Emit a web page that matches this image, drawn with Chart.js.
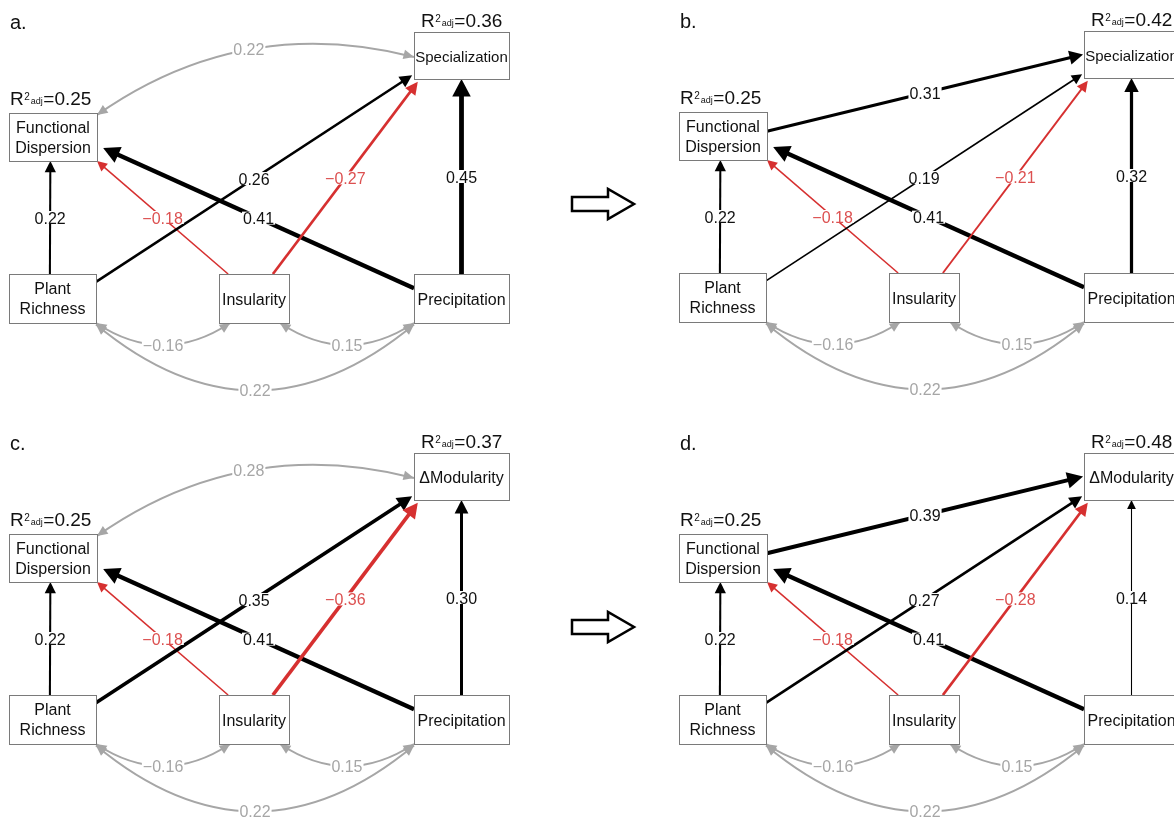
<!DOCTYPE html>
<html>
<head>
<meta charset="utf-8">
<script src="https://cdn.jsdelivr.net/npm/chart.js@4.4.1/dist/chart.umd.min.js"></script>
<style>
  html, body { margin: 0; padding: 0; background: #fff; }
  canvas { display: block; }
</style>
</head>
<body>
<canvas id="sem" width="1174" height="819"></canvas>
<script>
// ---- data ----
const panelLetters = ["a.", "b.", "c.", "d."];
const responseNames = ["Specialization", "Specialization", "\u0394Modularity", "\u0394Modularity"];
const r2Response = [0.36, 0.42, 0.37, 0.48];
const r2Dispersion = [0.25, 0.25, 0.25, 0.25];

// path coefficients (null = path not in the model)
const plantToDisp = [0.22, 0.22, 0.22, 0.22];
const insToDisp = [-0.18, -0.18, -0.18, -0.18];
const precToDisp = [0.41, 0.41, 0.41, 0.41];
const plantToResp = [0.26, 0.19, 0.35, 0.27];
const insToResp = [-0.27, -0.21, -0.36, -0.28];
const precToResp = [0.45, 0.32, 0.30, 0.14];
const dispToResp = [null, 0.31, null, 0.39];

// correlations (double headed, grey)
const dispRespCov = [0.22, null, 0.28, null];
const plantInsCov = [-0.16, -0.16, -0.16, -0.16];
const insPrecCov = [0.15, 0.15, 0.15, 0.15];
const plantPrecCov = [0.22, 0.22, 0.22, 0.22];

// ---- layout ----
const panelOrigin = [[0, 0], [670, -1], [0, 421], [670, 421]];
const boxes = {
  disp: { x: 9, y: 113, w: 88, h: 48 },
  resp: { x: 414, y: 32, w: 95, h: 47 },
  plant: { x: 9, y: 274, w: 87, h: 49 },
  ins: { x: 219, y: 274, w: 70, h: 49 },
  prec: { x: 414, y: 274, w: 95, h: 49 },
};
const boxText = {
  disp: ["Functional", "Dispersion"],
  plant: ["Plant", "Richness"],
  ins: ["Insularity"],
  prec: ["Precipitation"],
};
// ports: [box, fraction across, fraction down]
const paths = [
  { coef: plantToDisp, from: ["plant", 0.47, 0], to: ["disp", 0.47, 1] },
  { coef: insToDisp, from: ["ins", 0.13, 0], to: ["disp", 1, 1] },
  { coef: precToDisp, from: ["prec", 0, 0.29], to: ["disp", 1.07, 0.73] },
  { coef: plantToResp, from: ["plant", 1, 0.16], to: ["resp", -0.02, 0.92] },
  { coef: insToResp, from: ["ins", 0.77, 0], to: ["resp", 0.04, 1.06] },
  { coef: precToResp, from: ["prec", 0.5, 0], to: ["resp", 0.5, 1] },
  { coef: dispToResp, from: ["disp", 1, 0.4], to: ["resp", -0.01, 0.5] },
];
const covs = [
  { coef: dispRespCov, from: ["disp", 1, 0.04], to: ["resp", 0, 0.53], bend: 0.23 },
  { coef: plantInsCov, from: ["plant", 1, 1], to: ["ins", 0.16, 1], bend: -0.33 },
  { coef: insPrecCov, from: ["ins", 0.87, 1], to: ["prec", 0, 1], bend: -0.33 },
  { coef: plantPrecCov, from: ["plant", 1, 1.03], to: ["prec", 0, 1.03], bend: -0.415 },
];
const midArrows = [{ x: 572, y: 204 }, { x: 572, y: 627 }];

const FONT = "'Liberation Sans', Arial, Helvetica, sans-serif";
const RED = "rgb(214,48,48)";
const RED_TXT = "rgb(220,80,80)";
const GREY = "rgb(166,166,166)";

function fmt(c) {
  return (c < 0 ? "\u2212" : "") + Math.abs(c).toFixed(2);
}
function widthFor(c) {
  return Math.max(1, Math.abs(c) * 12 - 0.6);
}
function head(ctx, tip, ux, uy, hl, hw, color) {
  const bx = tip[0] - ux * hl, by = tip[1] - uy * hl;
  ctx.fillStyle = color;
  ctx.beginPath();
  ctx.moveTo(tip[0], tip[1]);
  ctx.lineTo(bx - uy * hw, by + ux * hw);
  ctx.lineTo(bx + uy * hw, by - ux * hw);
  ctx.closePath();
  ctx.fill();
}
function label(ctx, text, x, y, color) {
  ctx.font = "16px " + FONT;
  const w = ctx.measureText(text).width;
  ctx.fillStyle = "#fff";
  ctx.fillRect(x - w / 2 - 1, y - 6.5, w + 2, 13);
  ctx.fillStyle = color;
  ctx.textAlign = "center";
  ctx.textBaseline = "alphabetic";
  ctx.fillText(text, x, y + 6);
}
function r2(ctx, x, base, val) {
  ctx.fillStyle = "#111";
  ctx.textAlign = "left";
  ctx.textBaseline = "alphabetic";
  ctx.font = "19px " + FONT;
  ctx.fillText("R", x, base);
  x += ctx.measureText("R").width + 0.5;
  ctx.font = "10px " + FONT;
  ctx.fillText("2", x, base - 5.5);
  x += ctx.measureText("2").width + 1;
  ctx.font = "9px " + FONT;
  ctx.fillText("adj", x, base - 1);
  x += ctx.measureText("adj").width + 0.5;
  ctx.font = "19px " + FONT;
  ctx.fillText("=" + val.toFixed(2), x, base);
}

const semPlugin = {
  id: "semDiagram",
  afterDatasetsDraw(chart) {
    const ctx = chart.ctx;
    const sx = chart.scales.x, sy = chart.scales.y;
    ctx.save();
    for (let p = 0; p < 4; p++) {
      const [ox, oy] = panelOrigin[p];
      const px = (lx, ly) => [sx.getPixelForValue(ox + lx), sy.getPixelForValue(oy + ly)];
      const port = (s) => { const b = boxes[s[0]]; return px(b.x + b.w * s[1], b.y + b.h * s[2]); };
      const labels = [];

      // correlations
      covs.forEach((cv) => {
        const c = cv.coef[p];
        if (c === null) return;
        const a = port(cv.from), b = port(cv.to);
        const dx = b[0] - a[0], dy = b[1] - a[1];
        const k = [(a[0] + b[0]) / 2 + cv.bend * dy, (a[1] + b[1]) / 2 - cv.bend * dx];
        ctx.strokeStyle = GREY;
        ctx.lineWidth = 2;
        ctx.beginPath();
        ctx.moveTo(a[0], a[1]);
        ctx.quadraticCurveTo(k[0], k[1], b[0], b[1]);
        ctx.stroke();
        [[a, k], [b, k]].forEach(([t, q]) => {
          const vx = t[0] - q[0], vy = t[1] - q[1], L = Math.hypot(vx, vy);
          head(ctx, t, vx / L, vy / L, 10.5, 4.8, GREY);
        });
        labels.push([fmt(c), 0.25 * a[0] + 0.5 * k[0] + 0.25 * b[0], 0.25 * a[1] + 0.5 * k[1] + 0.25 * b[1], GREY]);
      });

      // directed paths
      paths.forEach((pa) => {
        const c = pa.coef[p];
        if (c === null) return;
        const a = port(pa.from), b = port(pa.to);
        const dx = b[0] - a[0], dy = b[1] - a[1], L = Math.hypot(dx, dy);
        const ux = dx / L, uy = dy / L;
        const lw = widthFor(c);
        const hl = 6.5 + lw * 2.3, hw = 3 + lw * 1.3;
        const col = c < 0 ? RED : "#000";
        ctx.strokeStyle = col;
        ctx.lineWidth = lw;
        ctx.lineCap = "butt";
        ctx.beginPath();
        ctx.moveTo(a[0], a[1]);
        ctx.lineTo(b[0] - ux * hl * 0.7, b[1] - uy * hl * 0.7);
        ctx.stroke();
        head(ctx, b, ux, uy, hl, hw, col);
        labels.push([fmt(c), (a[0] + b[0]) / 2, (a[1] + b[1]) / 2, c < 0 ? RED_TXT : "#111"]);
      });

      labels.forEach((l) => label(ctx, l[0], l[1], l[2], l[3]));

      // boxes
      Object.keys(boxes).forEach((key) => {
        const b = boxes[key];
        const [x0, y0] = px(b.x, b.y);
        const [x1, y1] = px(b.x + b.w, b.y + b.h);
        ctx.fillStyle = "#fff";
        ctx.fillRect(x0, y0, x1 - x0, y1 - y0);
        ctx.strokeStyle = "#7a7a7a";
        ctx.lineWidth = 1;
        ctx.strokeRect(Math.round(x0) + 0.5, Math.round(y0) + 0.5, Math.round(x1 - x0), Math.round(y1 - y0));
        const lines = key === "resp" ? [responseNames[p]] : boxText[key];
        const cx = (x0 + x1) / 2, cy = (y0 + y1) / 2;
        ctx.fillStyle = "#111";
        ctx.textAlign = "center";
        ctx.textBaseline = "alphabetic";
        ctx.font = (lines[0] === "Specialization" ? "15px " : "16px ") + FONT;
        if (lines.length === 1) {
          ctx.fillText(lines[0], cx, cy + 6);
        } else {
          ctx.fillText(lines[0], cx, cy - 4.5);
          ctx.fillText(lines[1], cx, cy + 15.5);
        }
      });

      // R2 labels
      const rr = px(boxes.resp.x + 7, boxes.resp.y - 5);
      r2(ctx, rr[0], rr[1], r2Response[p]);
      const rd = px(boxes.disp.x + 1, boxes.disp.y - 8);
      r2(ctx, rd[0], rd[1], r2Dispersion[p]);

      // panel letter
      const pl = px(10, 29);
      ctx.fillStyle = "#111";
      ctx.textAlign = "left";
      ctx.font = "20px " + FONT;
      ctx.fillText(panelLetters[p], pl[0], pl[1]);
    }

    // hollow arrows between panels
    midArrows.forEach((m) => {
      const pts = [[0, -7], [36, -7], [36, -15], [62, 0], [36, 15], [36, 7], [0, 7]]
        .map(([dx, dy]) => [sx.getPixelForValue(m.x + dx), sy.getPixelForValue(m.y + dy)]);
      ctx.beginPath();
      pts.forEach((q, i) => (i ? ctx.lineTo(q[0], q[1]) : ctx.moveTo(q[0], q[1])));
      ctx.closePath();
      ctx.fillStyle = "#fff";
      ctx.fill();
      ctx.strokeStyle = "#000";
      ctx.lineWidth = 2.5;
      ctx.lineJoin = "miter";
      ctx.stroke();
    });
    ctx.restore();
  },
};

// node centres as (invisible) points, one dataset per panel
const datasets = panelLetters.map((lab, p) => ({
  label: lab,
  data: Object.keys(boxes).map((k) => ({
    x: panelOrigin[p][0] + boxes[k].x + boxes[k].w / 2,
    y: panelOrigin[p][1] + boxes[k].y + boxes[k].h / 2,
  })),
  pointRadius: 0,
}));

new Chart(document.getElementById("sem"), {
  type: "scatter",
  data: { datasets: datasets },
  plugins: [semPlugin],
  options: {
    responsive: false,
    devicePixelRatio: 1,
    animation: false,
    events: [],
    layout: { padding: 0 },
    plugins: { legend: { display: false }, tooltip: { enabled: false } },
    scales: {
      x: { type: "linear", min: 0, max: 1174, display: false },
      y: { type: "linear", min: 0, max: 819, reverse: true, display: false },
    },
  },
});
</script>
</body>
</html>
